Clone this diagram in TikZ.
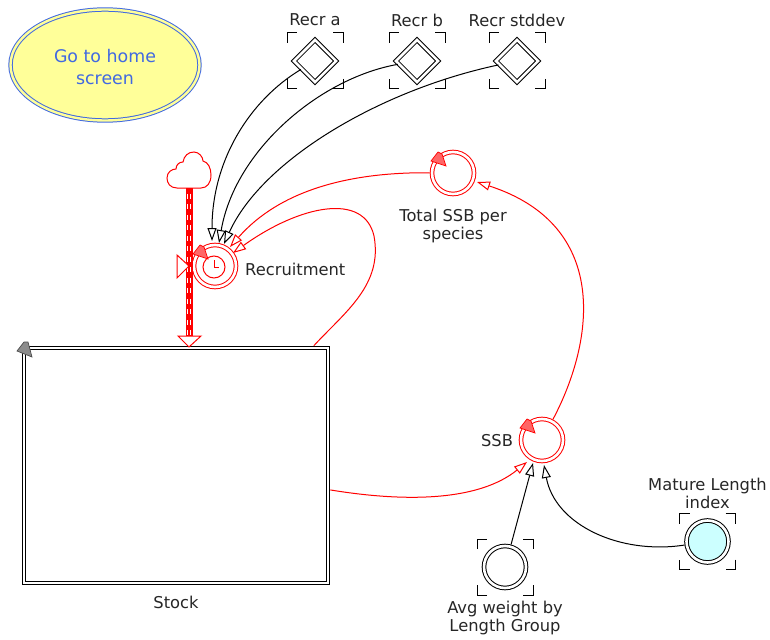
\documentclass[tikz,border=0pt]{standalone}
\usepackage{fontspec}
\setmainfont{DejaVu Sans}
\usetikzlibrary{arrows.meta, positioning, shapes.geometric}
\definecolor{homeblue}{HTML}{4169E1}
\definecolor{homeyellow}{HTML}{FFFF99}
\definecolor{inputcyan}{HTML}{CCFFFF}
\tikzset{
  vbox/.style={circle, draw=#1, double=white, double distance=2.6pt, line width=1pt,
               minimum size=42pt, inner sep=0pt, outer sep=2.3pt},
  vbox/.default=black,
  dbox/.style={diamond, draw=black, double=white, double distance=2.6pt, line width=1pt,
               minimum size=43pt, inner sep=0pt, outer sep=1pt},
  lbl/.style={font=\fontsize{16.3}{18.5}\selectfont, text=black!85, align=center, inner sep=0pt},
  arr/.style={-{Triangle[fill=white, length=13pt, width=9pt]}, line width=1pt, #1},
  arr/.default=black,
  brk/.pic={
    \draw[line width=1pt] (-28,-18) |- (-18,-28) (18,-28) -| (28,-18)
      (28,18) |- (18,28) (-18,28) -| (-28,18);
  },
  rmark/.pic={
    \draw[red, fill=red!60, line width=0.7pt] (-22,-12) -- (-15,-21) -- (-11,-19) -- (-7,-7) -- cycle;
  },
}

\begin{document}
\begin{tikzpicture}[x=1pt, y=-1pt]
\useasboundingbox (0,0) rectangle (770,639);

% home button
\node (home) at (105,65) [ellipse, draw=homeblue, double=homeyellow, double distance=2.4pt,
  fill=homeyellow, line width=1pt, minimum width=189pt, minimum height=111pt, inner sep=0pt] {};
\node [below=2pt of home.center, anchor=center, align=center, text=homeblue, inner sep=0pt,
  font=\fontsize{17.4}{22}\selectfont] {Go to home\\screen};

% parameters
\node (recra) at (315,61) [dbox] {};
\node (recrb) at (417,61) [dbox] {};
\node (recrstd) at (517,61) [dbox] {};
\node [lbl, above=41pt of recra.center, anchor=center] {Recr a};
\node [lbl, above=41pt of recrb.center, anchor=center] {Recr b};
\node [lbl, above=41pt of recrstd.center, anchor=center] {Recr stddev};
\pic at (recra) {brk};
\pic at (recrb) {brk};
\pic at (recrstd) {brk};

% variables
\node (recruit) at (215,266) [vbox=red] {};
\node (totssb) at (453,173) [vbox=red] {};
\node (ssb) at (542,440) [vbox=red] {};
\node (avgw) at (505,567) [vbox] {};
\node (matlen) at (707.5,541.5) [vbox, fill=inputcyan] {};
\pic at (avgw) {brk};
\pic at (matlen) {brk};
\pic at (recruit) {rmark};
\pic at (totssb) {rmark};
\pic at (ssb) {rmark};
\node (clock) at (214,267) [circle, draw=red, line width=1pt, minimum size=22pt, inner sep=0pt] {};
\draw[red, line width=1pt] (214,260) -- (clock.center) -- (219,267);

\node [lbl, right=30pt of recruit.center, anchor=west, yshift=-3pt] {Recruitment};
\node [lbl, below=53pt of totssb.center, anchor=center] {Total SSB per\\species};
\node [lbl, left=45pt of ssb.center, anchor=center, yshift=-1pt] {SSB};
\node [lbl, above=48pt of matlen.center, anchor=center] {Mature Length\\index};
\node [lbl, below=51pt of avgw.center, anchor=center] {Avg weight by\\Length Group};

% stock
\node (stock) at (176,465.5) [rectangle, draw=black, double=white, double distance=2.6pt,
  line width=1pt, minimum width=304pt, minimum height=235pt, outer sep=2.3pt] {};
\node [lbl, below=11pt of stock] {Stock};
\draw[black!70, fill=black!45, line width=0.7pt] (17,351) -- (24,342) -- (28,342) -- (32,357) -- cycle;

% cloud and flow
\node (cloud) at (189,170) [minimum width=44pt, minimum height=36pt, inner sep=0pt] {};
\draw[red, fill=white, line width=1pt] (177,188)
  .. controls (170,188) and (167,183) .. (167,178)
  .. controls (167,172) and (172,169) .. (176,169)
  .. controls (176,165) and (179,162) .. (183,162)
  .. controls (184,156) and (188,152) .. (194,152)
  .. controls (199,152) and (203,157) .. (203,161)
  .. controls (208,162) and (211,168) .. (211,175)
  .. controls (211,183) and (207,188) .. (201,188) -- cycle;
\node (valve) at (189,266) [inner sep=0pt, minimum size=1pt] {};
\coordinate (flowend) at (189,337);
\draw[red, line width=7pt] (cloud.south) -- (flowend);
\draw[white, line width=4.4pt, dash pattern=on 5pt off 5.5pt, dash phase=-5.5pt] (cloud.south) -- (flowend);
\draw[red, line width=1.4pt] (cloud.south) -- (flowend);
\draw[red, fill=white, line width=1pt] (valve.center) -- (177,255) -- (177,278) -- cycle;
\draw[red, fill=white, line width=1pt] (189,347) -- (178,336) -- (201,336) -- cycle;

% links
\draw[arr] (recra) .. controls (250,100) and (212,160) .. (212,241);
\draw[arr] (recrb) .. controls (320,78) and (235,150) .. (219,243);
\draw[arr] (recrstd) .. controls (380,90) and (262,160) .. (224,244);
\draw[arr=red] (totssb) .. controls (350,172) and (280,190) .. (230,247);
\coordinate (stockbend) at (374,236);
\draw[red, line width=1pt] (stock.41.2) .. controls (345,312) and (383,285) .. (stockbend);
\draw[arr=red] (stockbend) .. controls (364,192) and (300,205) .. (233,253);
\draw[arr=red] (stock.-9.4) .. controls (410,503) and (480,500) .. (527,462);
\draw[arr=red] (ssb) .. controls (595,340) and (610,225) .. (477,182);
\draw[arr] (avgw) -- (533,463);
\draw[arr] (matlen) .. controls (620,555) and (555,525) .. (544,465);
\end{tikzpicture}
\end{document}
